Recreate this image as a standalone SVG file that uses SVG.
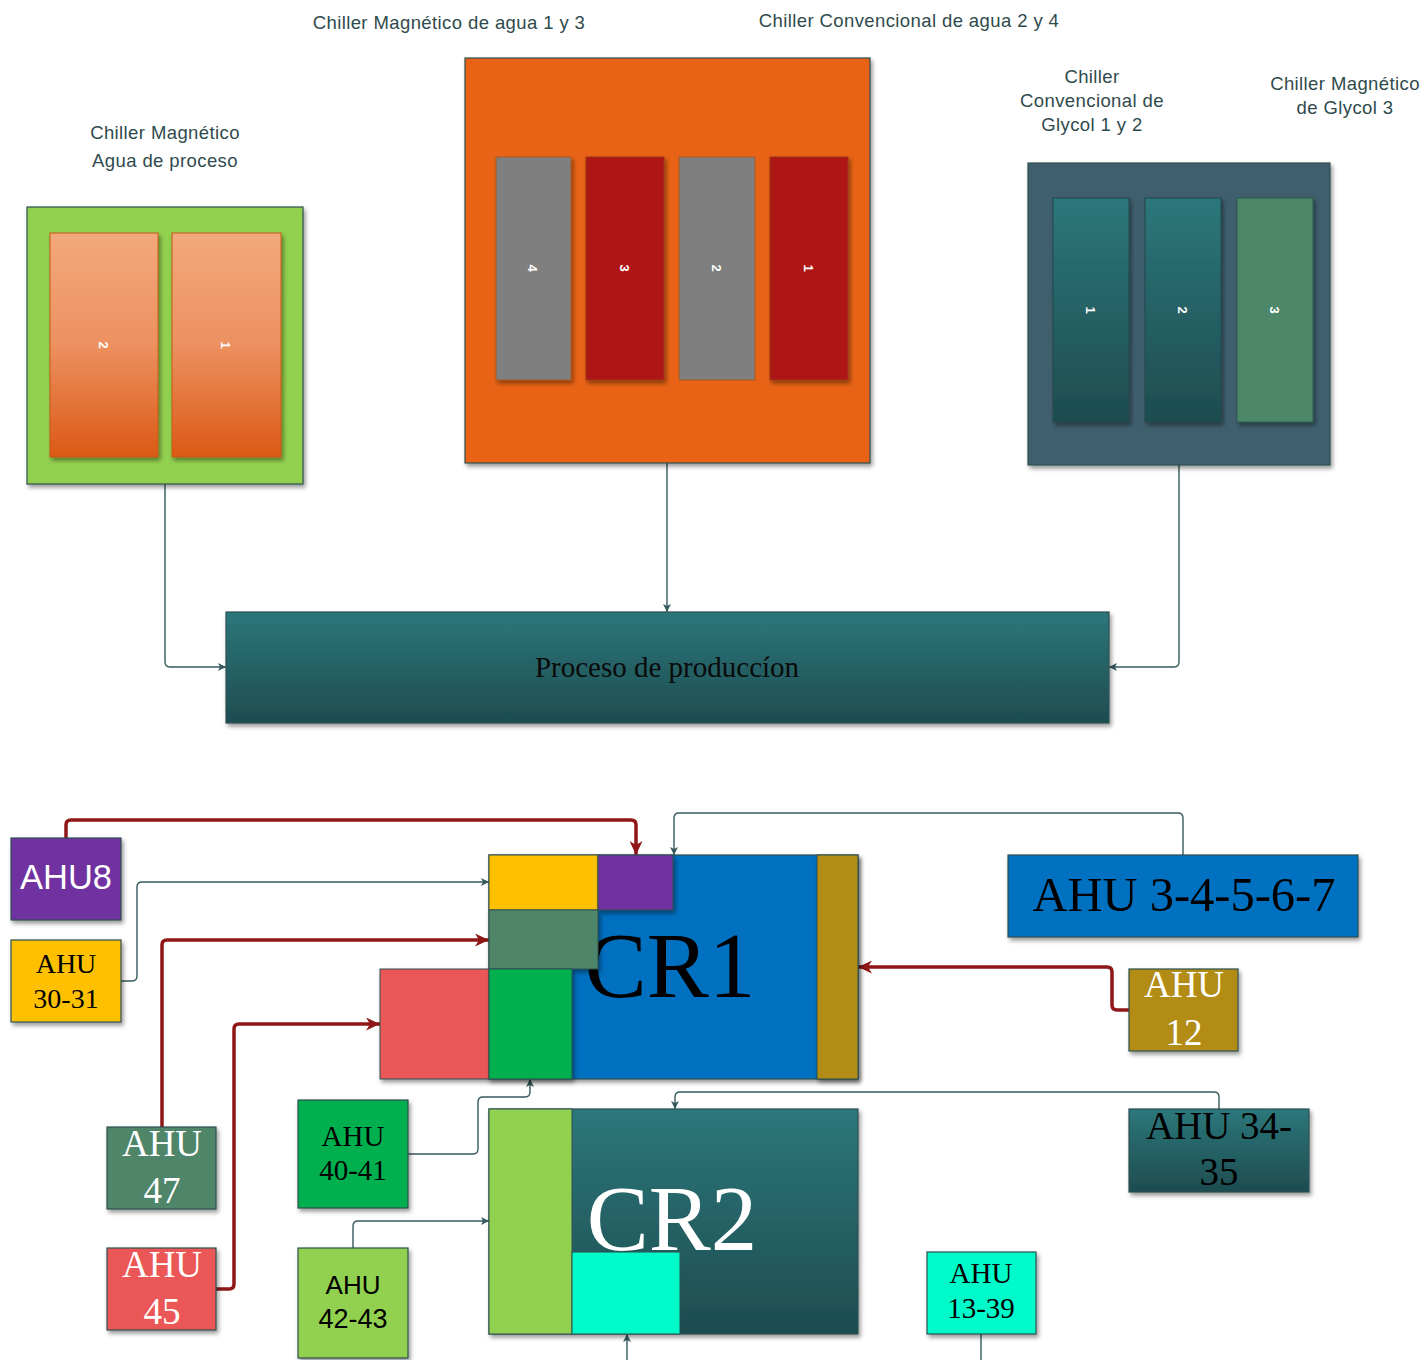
<svg xmlns="http://www.w3.org/2000/svg" width="1425" height="1360" viewBox="0 0 1425 1360">
  <style>
    .cap { font-family: "Liberation Sans", Arial, sans-serif; font-size: 18.5px; letter-spacing: 0.4px; fill: #2f4a4c; text-anchor: middle; }
    .box { stroke: #2f4f50; stroke-width: 1.2; }
    .cell { stroke: #2f4f50; stroke-width: 1; }
    .num { font-family: "Liberation Sans", Arial, sans-serif; font-size: 13px; font-weight: bold; fill: #ffffff; text-anchor: middle; }
    .serif { font-family: "Liberation Serif", "Times New Roman", serif; text-anchor: middle; }
    .sans { font-family: "Liberation Sans", Arial, sans-serif; text-anchor: middle; }
    .thin { fill: none; stroke: #35595c; stroke-width: 1.4; }
    .thick { fill: none; stroke: #8f1717; stroke-width: 3.5; }
  </style>
  <defs>
    <filter id="shadow" x="-10%" y="-10%" width="130%" height="130%">
      <feDropShadow dx="2" dy="3" stdDeviation="2" flood-color="#000" flood-opacity="0.4"/>
    </filter>
    <linearGradient id="gOrange" x1="0" y1="0" x2="0" y2="1">
      <stop offset="0" stop-color="#f3a87c"/>
      <stop offset="0.5" stop-color="#ec9160"/>
      <stop offset="1" stop-color="#db5915"/>
    </linearGradient>
    <linearGradient id="gTeal" x1="0" y1="0" x2="0" y2="1">
      <stop offset="0" stop-color="#2c777b"/>
      <stop offset="1" stop-color="#1e4c50"/>
    </linearGradient>
    <marker id="aThin" viewBox="0 0 8 8" markerWidth="8" markerHeight="8" refX="8" refY="4" orient="auto" markerUnits="userSpaceOnUse">
      <path d="M0,0 L8,4 L0,8 L2,4 Z" fill="#35595c"/>
    </marker>
    <marker id="aThick" viewBox="0 0 14 13" markerWidth="14" markerHeight="13" refX="14" refY="6.5" orient="auto" markerUnits="userSpaceOnUse">
      <path d="M0,0 L14,6.5 L0,13 L4,6.5 Z" fill="#8f1717"/>
    </marker>
  </defs>

  <rect width="1425" height="1360" fill="#ffffff"/>

  <!-- captions -->
  <g id="captions">
    <text class="cap" x="165" y="139">Chiller Magnético</text>
    <text class="cap" x="165" y="167">Agua de proceso</text>
    <text class="cap" x="449" y="29">Chiller Magnético de agua 1 y 3</text>
    <text class="cap" x="909" y="27">Chiller Convencional de agua 2 y 4</text>
    <text class="cap" x="1092" y="83">Chiller</text>
    <text class="cap" x="1092" y="107">Convencional de</text>
    <text class="cap" x="1092" y="131">Glycol 1 y 2</text>
    <text class="cap" x="1345" y="90">Chiller Magnético</text>
    <text class="cap" x="1345" y="114">de Glycol 3</text>
  </g>

  <!-- connectors -->
  <g id="connectors">
    <path class="thin" d="M165,484 V662 Q165,667 170,667 H226" marker-end="url(#aThin)"/>
    <path class="thin" d="M667,463 V612" marker-end="url(#aThin)"/>
    <path class="thin" d="M1179,465 V662 Q1179,667 1174,667 H1109" marker-end="url(#aThin)"/>

    <path class="thick" d="M66,838 V825 Q66,820 71,820 H631 Q636,820 636,825 V855" marker-end="url(#aThick)"/>
    <path class="thin" d="M1183,855 V818 Q1183,813 1178,813 H679 Q674,813 674,818 V855" marker-end="url(#aThin)"/>
    <path class="thin" d="M121,981 H132 Q137,981 137,976 V887 Q137,882 142,882 H489" marker-end="url(#aThin)"/>
    <path class="thick" d="M162,1127 V945 Q162,940 167,940 H489" marker-end="url(#aThick)"/>
    <path class="thick" d="M216,1289 H229 Q234,1289 234,1284 V1029 Q234,1024 239,1024 H380" marker-end="url(#aThick)"/>
    <path class="thick" d="M1129,1010 H1117 Q1112,1010 1112,1005 V972 Q1112,967 1107,967 H858" marker-end="url(#aThick)"/>
    <path class="thin" d="M408,1154 H473 Q478,1154 478,1149 V1102 Q478,1097 483,1097 H525 Q530,1097 530,1092 V1079" marker-end="url(#aThin)"/>
    <path class="thin" d="M353,1248 V1226 Q353,1221 358,1221 H489" marker-end="url(#aThin)"/>
    <path class="thin" d="M1219,1109 V1097 Q1219,1092 1214,1092 H680 Q675,1092 675,1097 V1109" marker-end="url(#aThin)"/>
    <path class="thin" d="M981,1334 V1360"/>
    <path class="thin" d="M627,1360 V1334" marker-end="url(#aThin)"/>
  </g>

  <!-- process-water magnetic chiller -->
  <g id="chiller-proceso">
    <rect class="box" x="27" y="207" width="276" height="277" fill="#92d050" filter="url(#shadow)"/>
    <rect x="50" y="233" width="108" height="224" fill="url(#gOrange)" stroke="#c55a11" stroke-width="1" filter="url(#shadow)"/>
    <rect x="172" y="233" width="109" height="224" fill="url(#gOrange)" stroke="#c55a11" stroke-width="1" filter="url(#shadow)"/>
    <text class="num" transform="translate(104,345) rotate(90)" y="5">2</text>
    <text class="num" transform="translate(226,345) rotate(90)" y="5">1</text>
  </g>

  <!-- water chillers 1-4 -->
  <g id="chiller-agua">
    <rect class="box" x="465" y="58" width="405" height="405" fill="#e86413" filter="url(#shadow)"/>
    <rect x="496" y="157" width="75" height="223" fill="#7f7f7f" stroke="#a85a20" stroke-width="1" filter="url(#shadow)"/>
    <rect x="586" y="157" width="78" height="223" fill="#ae1515" stroke="#9a3a10" stroke-width="1" filter="url(#shadow)"/>
    <rect x="679" y="157" width="76" height="223" fill="#7f7f7f" stroke="#a85a20" stroke-width="1"/>
    <rect x="770" y="157" width="78" height="223" fill="#ae1515" stroke="#9a3a10" stroke-width="1" filter="url(#shadow)"/>
    <text class="num" transform="translate(533,268) rotate(90)" y="5">4</text>
    <text class="num" transform="translate(625,268) rotate(90)" y="5">3</text>
    <text class="num" transform="translate(717,268) rotate(90)" y="5">2</text>
    <text class="num" transform="translate(809,268) rotate(90)" y="5">1</text>
  </g>

  <!-- glycol chillers -->
  <g id="chiller-glycol">
    <rect class="box" x="1028" y="163" width="302" height="302" fill="#3f5f6e" filter="url(#shadow)"/>
    <rect x="1053" y="198" width="76" height="224" fill="url(#gTeal)" stroke="#22494c" stroke-width="1" filter="url(#shadow)"/>
    <rect x="1145" y="198" width="76" height="224" fill="url(#gTeal)" stroke="#22494c" stroke-width="1" filter="url(#shadow)"/>
    <rect x="1237" y="198" width="76" height="224" fill="#4e876b" stroke="#2f5a50" stroke-width="1" filter="url(#shadow)"/>
    <text class="num" transform="translate(1091,310) rotate(90)" y="5">1</text>
    <text class="num" transform="translate(1183,310) rotate(90)" y="5">2</text>
    <text class="num" transform="translate(1275,310) rotate(90)" y="5">3</text>
  </g>

  <!-- production process -->
  <g id="proceso">
    <rect class="box" x="226" y="612" width="883" height="111" fill="url(#gTeal)" filter="url(#shadow)"/>
    <text class="serif" x="667" y="677" font-size="29" fill="#0a0a0a">Proceso de produccíon</text>
  </g>

  <!-- clean room 1 -->
  <g id="cr1">
    <rect class="box" x="489" y="855" width="369" height="224" fill="#0070c0" filter="url(#shadow)"/>
    <text class="serif" x="670" y="997" font-size="93" fill="#000000">CR1</text>
    <rect class="cell" x="489" y="855" width="109" height="55" fill="#ffc000"/>
    <rect class="cell" x="598" y="855" width="75" height="55" fill="#7030a0" filter="url(#shadow)"/>
    <rect class="cell" x="489" y="910" width="109" height="59" fill="#4f866b" filter="url(#shadow)"/>
    <rect class="cell" x="380" y="969" width="109" height="110" fill="#eb5757" filter="url(#shadow)"/>
    <rect class="cell" x="489" y="969" width="83" height="110" fill="#00b050" filter="url(#shadow)"/>
    <rect class="cell" x="817" y="855" width="41" height="224" fill="#b38c16" filter="url(#shadow)"/>
  </g>

  <!-- clean room 2 -->
  <g id="cr2">
    <rect class="box" x="489" y="1109" width="369" height="225" fill="url(#gTeal)" filter="url(#shadow)"/>
    <text class="serif" x="672" y="1250" font-size="93" fill="#ffffff">CR2</text>
    <rect class="cell" x="489" y="1109" width="83" height="225" fill="#92d050"/>
    <rect class="cell" x="572" y="1252" width="108" height="82" fill="#00fbcb"/>
  </g>

  <!-- air handling units -->
  <g id="ahu8">
    <rect class="box" x="11" y="838" width="110" height="82" fill="#7030a0" filter="url(#shadow)"/>
    <text class="sans" x="66" y="889" font-size="35" fill="#ffffff" textLength="92" lengthAdjust="spacingAndGlyphs">AHU8</text>
  </g>
  <g id="ahu30-31">
    <rect class="box" x="11" y="940" width="110" height="82" fill="#ffc000" filter="url(#shadow)"/>
    <text class="serif" x="66" y="973" font-size="28" fill="#000000">AHU</text>
    <text class="serif" x="66" y="1008" font-size="28" fill="#000000">30-31</text>
  </g>
  <g id="ahu3-7">
    <rect class="box" x="1008" y="855" width="350" height="82" fill="#0070c0" filter="url(#shadow)"/>
    <text class="serif" x="1184" y="911" font-size="48.5" fill="#000000">AHU 3-4-5-6-7</text>
  </g>
  <g id="ahu12">
    <rect class="box" x="1129" y="969" width="109" height="82" fill="#b38c16" filter="url(#shadow)"/>
    <text class="serif" x="1184" y="997" font-size="37" fill="#ffffff">AHU</text>
    <text class="serif" x="1184" y="1045" font-size="37" fill="#ffffff">12</text>
  </g>
  <g id="ahu47">
    <rect class="box" x="107" y="1127" width="109" height="82" fill="#4f866b" filter="url(#shadow)"/>
    <text class="serif" x="162" y="1156" font-size="37" fill="#ffffff">AHU</text>
    <text class="serif" x="162" y="1203" font-size="37" fill="#ffffff">47</text>
  </g>
  <g id="ahu45">
    <rect class="box" x="107" y="1248" width="109" height="82" fill="#eb5757" filter="url(#shadow)"/>
    <text class="serif" x="162" y="1277" font-size="37" fill="#ffffff">AHU</text>
    <text class="serif" x="162" y="1324" font-size="37" fill="#ffffff">45</text>
  </g>
  <g id="ahu40-41">
    <rect class="box" x="298" y="1100" width="110" height="108" fill="#00b050" filter="url(#shadow)"/>
    <text class="serif" x="353" y="1146" font-size="29" fill="#000000">AHU</text>
    <text class="serif" x="353" y="1180" font-size="29" fill="#000000">40-41</text>
  </g>
  <g id="ahu42-43">
    <rect class="box" x="298" y="1248" width="110" height="110" fill="#92d050" filter="url(#shadow)"/>
    <text class="sans" x="353" y="1294" font-size="26" fill="#000000">AHU</text>
    <text class="sans" x="353" y="1328" font-size="27" fill="#000000">42-43</text>
  </g>
  <g id="ahu34-35">
    <rect class="box" x="1129" y="1109" width="180" height="83" fill="url(#gTeal)" filter="url(#shadow)"/>
    <text class="serif" x="1219" y="1139" font-size="39" fill="#000000">AHU 34-</text>
    <text class="serif" x="1219" y="1185" font-size="39" fill="#000000">35</text>
  </g>
  <g id="ahu13-39">
    <rect class="box" x="927" y="1252" width="109" height="82" fill="#00fbcb" filter="url(#shadow)"/>
    <text class="serif" x="981" y="1283" font-size="29" fill="#000000">AHU</text>
    <text class="serif" x="981" y="1318" font-size="29" fill="#000000">13-39</text>
  </g>
</svg>
